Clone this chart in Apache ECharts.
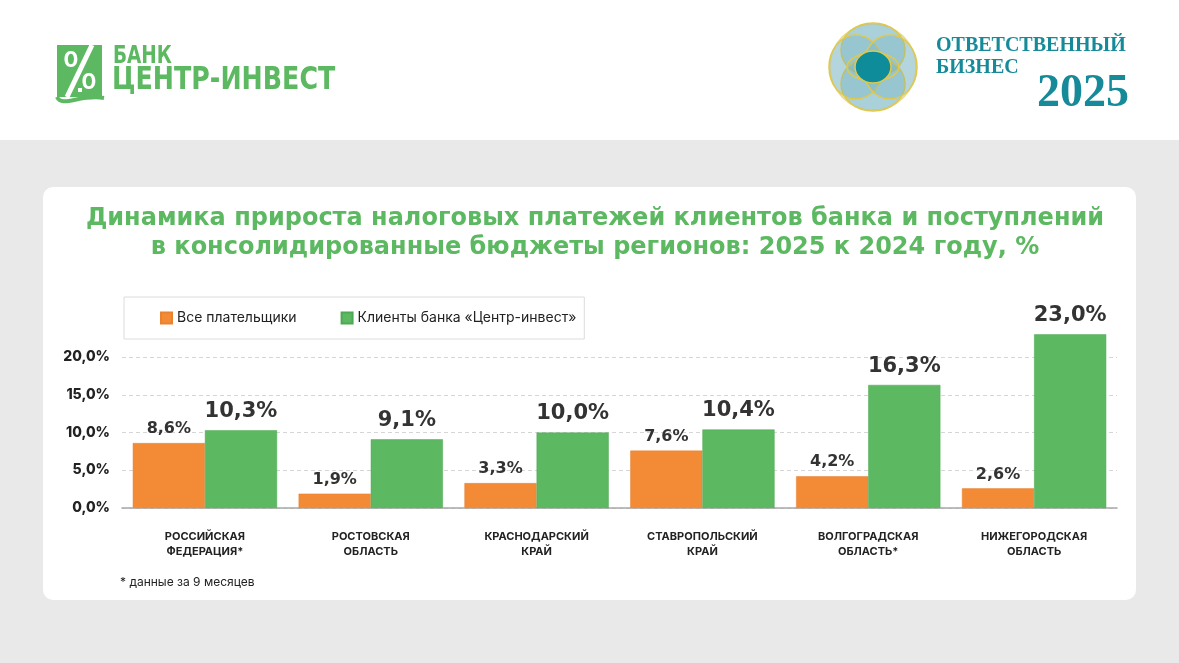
<!DOCTYPE html>
<html>
<head>
<meta charset="utf-8">
<script src="https://cdn.jsdelivr.net/npm/echarts@6/dist/echarts.min.js"></script>
<style>
  html, body { margin: 0; padding: 0; background: #e8e9e8; }
  #chart { width: 1179px; height: 663px; }
</style>
</head>
<body>
<div id="chart"></div>
<script>
// данные
const regions = [
  'РОССИЙСКАЯ\nФЕДЕРАЦИЯ*',
  'РОСТОВСКАЯ\nОБЛАСТЬ',
  'КРАСНОДАРСКИЙ\nКРАЙ',
  'СТАВРОПОЛЬСКИЙ\nКРАЙ',
  'ВОЛГОГРАДСКАЯ\nОБЛАСТЬ*',
  'НИЖЕГОРОДСКАЯ\nОБЛАСТЬ'
];
const allPayers = [8.6, 1.9, 3.3, 7.6, 4.2, 2.6];
const bankClients = [10.3, 9.1, 10.0, 10.4, 16.3, 23.0];
const seriesNames = ['Все плательщики', 'Клиенты банка «Центр-инвест»'];

const FONT = 'Inter, "Open Sans", sans-serif';
const WIDE = '"DejaVu Sans", Inter, sans-serif';
const GREEN = '#5cb961';
const ORANGE = '#f28a36';
const TEAL = '#168a98';

const pct = v => v.toFixed(1).replace('.', ',') + '%';

const chart = echarts.init(document.getElementById('chart'));

const ring = { stroke: '#e2c84a', lineWidth: 1.5 };

const logoGraphics = [
  // header + card
  { type: 'rect', shape: { x: 0, y: 0, width: 1179, height: 140 }, style: { fill: '#fff' }, z: -10 },
  { type: 'rect', shape: { x: 43, y: 187, width: 1093, height: 413, r: 10 }, style: { fill: '#fff' }, z: -10 },

  // bank logo
  { type: 'rect', shape: { x: 57, y: 45, width: 45, height: 52 }, style: { fill: GREEN } },
  { type: 'line', shape: { x1: 92, y1: 45, x2: 67, y2: 97 }, style: { stroke: '#fff', lineWidth: 5 } },
  { type: 'text', style: { x: 71, y: 60, text: '0', fill: '#fff', font: 'bold 22px ' + FONT, align: 'center', verticalAlign: 'middle' } },
  { type: 'text', style: { x: 89, y: 82, text: '0', fill: '#fff', font: 'bold 22px ' + FONT, align: 'center', verticalAlign: 'middle' } },
  { type: 'rect', shape: { x: 78, y: 88, width: 4, height: 4 }, style: { fill: '#fff' } },
  { type: 'bezierCurve', shape: { x1: 57, y1: 97, cpx1: 62, cpy1: 108, cpx2: 80, cpy2: 94, x2: 104, y2: 98 }, style: { stroke: GREEN, lineWidth: 4, fill: null } },
  { type: 'text', x: 113, y: 56, scaleX: 0.82, style: { x: 0, y: 0, text: 'БАНК', fill: GREEN, font: 'bold 25px "DejaVu Sans Condensed", ' + FONT, verticalAlign: 'middle' } },
  { type: 'text', x: 112, y: 81, scaleX: 0.88, style: { x: 0, y: 0, text: 'ЦЕНТР-ИНВЕСТ', fill: GREEN, font: 'bold 32px "DejaVu Sans Condensed", ' + FONT, verticalAlign: 'middle' } },

  // responsible business logo
  { type: 'circle', shape: { cx: 873, cy: 67, r: 43 }, style: { fill: '#d3e6e9', stroke: '#ead98a', lineWidth: 1.5 } },
  { type: 'ellipse', shape: { cx: 873, cy: 50, rx: 32, ry: 27 }, style: Object.assign({ fill: 'rgba(110,175,192,0.4)' }, ring) },
  { type: 'ellipse', shape: { cx: 873, cy: 84, rx: 32, ry: 27 }, style: Object.assign({ fill: 'rgba(110,175,192,0.4)' }, ring) },
  { type: 'ellipse', shape: { cx: 856, cy: 67, rx: 27, ry: 32 }, style: Object.assign({ fill: 'rgba(110,175,192,0.3)' }, ring) },
  { type: 'ellipse', shape: { cx: 890, cy: 67, rx: 27, ry: 32 }, style: Object.assign({ fill: 'rgba(110,175,192,0.3)' }, ring) },
  { type: 'ellipse', shape: { cx: 873, cy: 67, rx: 26, ry: 14 }, style: Object.assign({ fill: 'none' }, ring) },
  { type: 'ellipse', shape: { cx: 873, cy: 67, rx: 18, ry: 16 }, style: Object.assign({ fill: '#0f8c9a' }, ring) },
  { type: 'text', style: { x: 936, y: 46, text: 'ОТВЕТСТВЕННЫЙ', fill: TEAL, font: 'bold 20px "Liberation Serif", serif', verticalAlign: 'middle' } },
  { type: 'text', style: { x: 936, y: 68, text: 'БИЗНЕС', fill: TEAL, font: 'bold 20px "Liberation Serif", serif', verticalAlign: 'middle' } },
  { type: 'text', style: { x: 1129, y: 94, text: '2025', fill: TEAL, font: 'bold 46px "Liberation Serif", serif', align: 'right', verticalAlign: 'middle' } },

  // footnote
  { type: 'text', style: { x: 120, y: 582, text: '* данные за 9 месяцев', fill: '#222', font: '12px ' + FONT, verticalAlign: 'middle' } }
];

const option = {
  backgroundColor: '#e8e9e8',
  animation: false,
  textStyle: { fontFamily: FONT },
  title: {
    text: 'Динамика прироста налоговых платежей клиентов банка и поступлений\nв консолидированные бюджеты регионов: 2025 к 2024 году, %',
    left: 590,
    top: 199,
    textAlign: 'center',
    textStyle: { color: GREEN, fontSize: 24, fontWeight: 'bold', lineHeight: 29, fontFamily: WIDE }
  },
  legend: {
    left: 124,
    top: 297,
    padding: [14, 8, 14, 36],
    borderColor: '#dcdcdc',
    borderWidth: 1,
    itemWidth: 11,
    itemHeight: 11,
    itemGap: 44,
    icon: 'rect',
    textStyle: { fontSize: 14, color: '#222', fontFamily: FONT },
    data: seriesNames
  },
  grid: { left: 122, right: 62, top: 357, bottom: 155, containLabel: false },
  xAxis: {
    type: 'category',
    data: regions,
    axisTick: { show: false },
    axisLine: { lineStyle: { color: '#a8a8a8', width: 1.5 } },
    axisLabel: { color: '#222', fontWeight: 'bold', fontSize: 11, lineHeight: 15, margin: 21, interval: 0 }
  },
  yAxis: {
    type: 'value',
    min: 0,
    max: 20,
    interval: 5,
    axisLine: { show: false },
    axisTick: { show: false },
    splitLine: { lineStyle: { color: '#d6d6d6', type: [4, 3] } },
    axisLabel: { color: '#222', fontWeight: 800, fontSize: 14, margin: 12, fontFamily: FONT, formatter: v => pct(v) }
  },
  series: [
    {
      name: seriesNames[0],
      type: 'bar',
      data: allPayers,
      barGap: '0%',
      barCategoryGap: '13%',
      clip: false,
      itemStyle: { color: ORANGE, borderColor: '#e98130', borderWidth: 0.5 },
      label: {
        show: true, position: 'top', distance: 6,
        color: '#333', fontWeight: 'bold', fontSize: 16, fontFamily: WIDE,
        formatter: p => pct(p.value)
      }
    },
    {
      name: seriesNames[1],
      type: 'bar',
      data: bankClients,
      clip: false,
      itemStyle: { color: GREEN, borderColor: '#4ea955', borderWidth: 0.5 },
      label: {
        show: true, position: 'top', distance: 8,
        color: '#333', fontWeight: 'bold', fontSize: 21, fontFamily: WIDE,
        formatter: p => pct(p.value)
      }
    }
  ],
  graphic: logoGraphics
};

chart.setOption(option);
</script>
</body>
</html>
